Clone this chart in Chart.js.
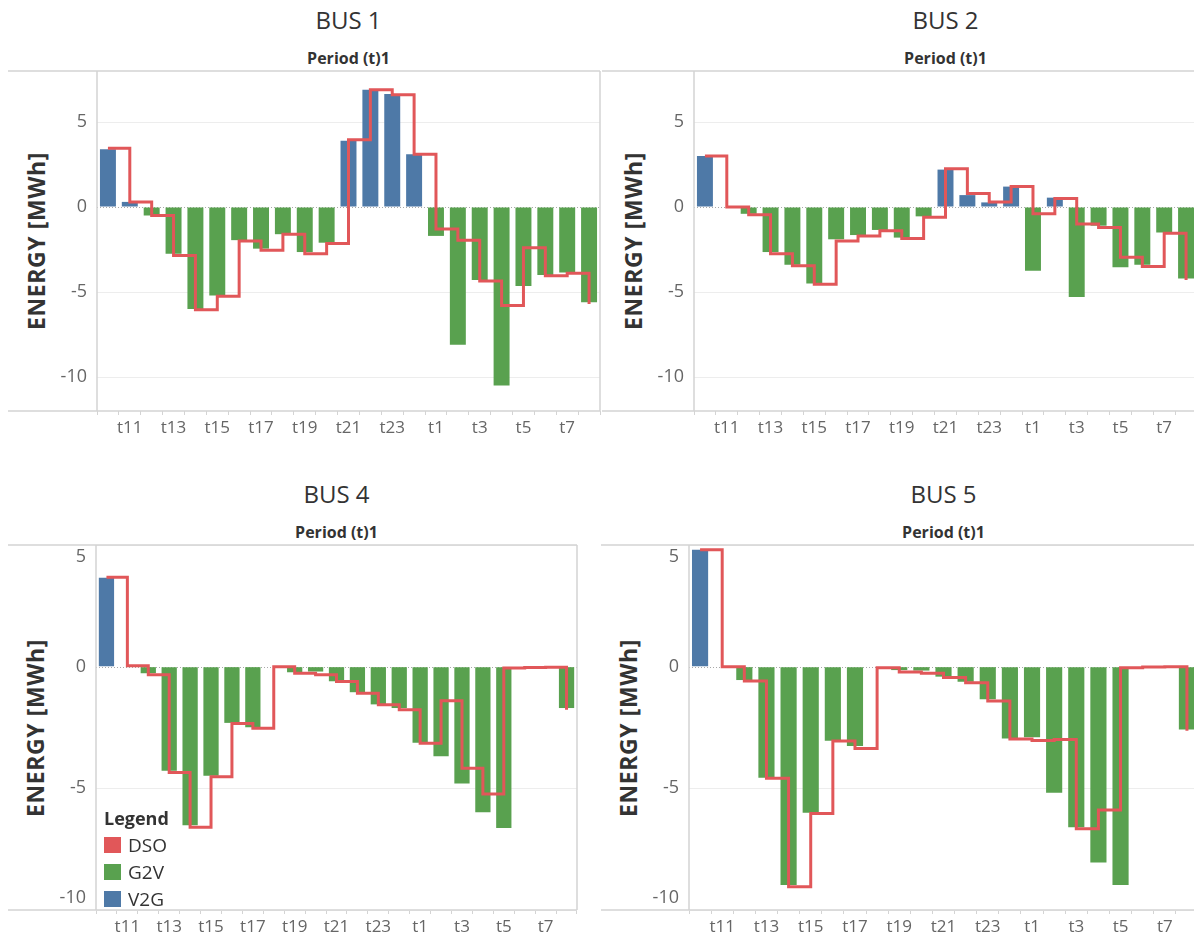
<!DOCTYPE html>
<html>
<head>
<meta charset="utf-8">
<script src="https://cdn.jsdelivr.net/npm/chart.js@4.4.1/dist/chart.umd.min.js"></script>
<style>
    html, body { margin: 0; padding: 0; background: #fff; }
    body {
        position: relative;
        width: 1194px;
        height: 939px;
        overflow: hidden;
        font-family: 'Open Sans', sans-serif;
        color: #333;
    }
    canvas { position: absolute; }
    .txt { position: absolute; white-space: nowrap; transform: translate(-50%, -50%); }
    .bus { font-size: 24px; }
    .period { font-size: 16px; font-weight: 700; }
    .ytitle { font-size: 23px; font-weight: 700; letter-spacing: 0.6px; transform: translate(-50%, -50%) rotate(-90deg); }
    .legend { position: absolute; left: 104px; top: 806px; }
    .legend h4 { margin: 0 0 2px 0; font-size: 18px; font-weight: 700; line-height: 24px; }
    .legend div { display: flex; align-items: center; height: 26.7px; font-size: 19px; }
    .legend span { display: inline-block; width: 17px; height: 16px; margin-right: 7px; }
</style>
</head>
<body>
<script>
const PERIODS = ['t10', 't11', 't12', 't13', 't14', 't15', 't16', 't17', 't18', 't19', 't20', 't21', 't22', 't23', 't24',
                 't1', 't2', 't3', 't4', 't5', 't6', 't7', 't8'];
const Y_TICKS = [5, 0, -5, -10];

const BUS1_V2G = [3.4, 0.3, 0, 0, 0, 0, 0, 0, 0, 0, 0, 3.9, 6.9, 6.65, 3.1, 0, 0, 0, 0, 0, 0, 0, 0];
const BUS1_G2V = [0, 0, -0.5, -2.75, -6.0, -5.2, -1.95, -2.45, -1.6, -2.65, -2.1, 0, 0, 0, 0, -1.7, -8.1, -4.3, -10.5, -4.65, -4.0, -3.85, -5.6];
const BUS1_DSO = [3.45, 0.3, -0.5, -2.85, -6.05, -5.25, -2.0, -2.55, -1.6, -2.75, -2.15, 3.95, 6.9, 6.6, 3.1, -1.3, -1.95, -4.35, -5.8, -2.4, -4.05, -3.9, -5.7];

const BUS2_V2G = [3.0, 0, 0, 0, 0, 0, 0, 0, 0, 0, 0, 2.2, 0.7, 0.27, 1.2, 0, 0.55, 0, 0, 0, 0, 0, 0];
const BUS2_G2V = [0, 0, -0.4, -2.65, -3.4, -4.5, -1.9, -1.65, -1.35, -1.8, -0.55, 0, 0, 0, 0, -3.75, 0, -5.3, -1.1, -3.55, -3.4, -1.5, -4.2];
const BUS2_DSO = [3.0, 0, -0.45, -2.75, -3.45, -4.55, -2.0, -1.7, -1.4, -1.85, -0.6, 2.25, 0.8, 0.3, 1.2, -0.4, 0.5, -1.0, -1.2, -2.95, -3.5, -1.55, -4.3];

const BUS4_V2G = [3.65, 0, 0, 0, 0, 0, 0, 0, 0, 0, 0, 0, 0, 0, 0, 0, 0, 0, 0, 0, 0, 0, 0];
const BUS4_G2V = [0, 0, -0.27, -4.28, -6.52, -4.48, -2.31, -2.49, 0, -0.23, -0.2, -0.6, -1.05, -1.55, -1.7, -3.13, -3.68, -4.8, -5.98, -6.63, 0, 0, -1.7];
const BUS4_DSO = [3.67, 0.04, -0.33, -4.35, -6.6, -4.52, -2.34, -2.53, 0, -0.27, -0.33, -0.61, -1.09, -1.56, -1.77, -3.15, -1.4, -4.17, -5.23, -0.05, -0.03, -0.02, -1.77];

const BUS5_V2G = [4.8, 0, 0, 0, 0, 0, 0, 0, 0, 0, 0, 0, 0, 0, 0, 0, 0, 0, 0, 0, 0, 0, 0];
const BUS5_G2V = [0, 0, -0.55, -4.56, -8.97, -6.0, -3.04, -3.26, 0, -0.14, -0.16, -0.41, -0.62, -1.34, -2.95, -2.9, -5.18, -6.6, -8.05, -8.97, 0, 0, -2.58];
const BUS5_DSO = [4.8, 0, -0.59, -4.59, -9.04, -6.03, -3.05, -3.36, -0.04, -0.22, -0.27, -0.45, -0.66, -1.41, -2.97, -3.03, -2.99, -6.66, -5.89, -0.04, -0.01, 0, -2.63];

const RED = '#e15759';
const GREEN = '#59a14f';
const BLUE = '#4e79a7';

Chart.defaults.font.family = "'Open Sans', sans-serif";

// frameLeft: where the panel's top/bottom rules start; left/right/top/bottom: plot band in page pixels
const PANELS = [
    { name: 'BUS 1', v2g: BUS1_V2G, g2v: BUS1_G2V, dso: BUS1_DSO, frameLeft: 8, left: 97, right: 600, top: 71, bottom: 411, yMin: -12, yMax: 8, rightBorder: true },
    { name: 'BUS 2', v2g: BUS2_V2G, g2v: BUS2_G2V, dso: BUS2_DSO, frameLeft: 602, left: 694, right: 1197, top: 71, bottom: 411, yMin: -12, yMax: 8, rightBorder: false },
    { name: 'BUS 4', v2g: BUS4_V2G, g2v: BUS4_G2V, dso: BUS4_DSO, frameLeft: 8, left: 96, right: 577, top: 545, bottom: 910, yMin: -10, yMax: 5, rightBorder: true, legend: true },
    { name: 'BUS 5', v2g: BUS5_V2G, g2v: BUS5_G2V, dso: BUS5_DSO, frameLeft: 601, left: 689, right: 1198, top: 545, bottom: 910, yMin: -10, yMax: 5, rightBorder: false }
];

// rules round the plot band, dotted zero line and the y labels (kept inside the band like the original tool does)
const panelFrame = {
    id: 'panelFrame',
    beforeDatasetsDraw(chart) {
        const { ctx, chartArea: a } = chart;
        const y0 = Math.round(chart.scales.y.getPixelForValue(0)) + 0.5;
        ctx.save();
        ctx.strokeStyle = '#a8a8a8';
        ctx.lineWidth = 1;
        ctx.setLineDash([1, 2]);
        ctx.beginPath();
        ctx.moveTo(a.left, y0);
        ctx.lineTo(a.right, y0);
        ctx.stroke();
        ctx.restore();
    },
    afterDraw(chart, args, opts) {
        const { ctx, chartArea: a } = chart;
        const y = chart.scales.y;
        ctx.save();
        ctx.strokeStyle = '#d4d4d4';
        ctx.lineWidth = 1.5;
        ctx.beginPath();
        ctx.moveTo(0, a.top); ctx.lineTo(a.right, a.top);
        ctx.moveTo(0, a.bottom); ctx.lineTo(a.right, a.bottom);
        ctx.moveTo(a.left, a.top); ctx.lineTo(a.left, a.bottom);
        if (opts.rightBorder) { ctx.moveTo(a.right, a.top); ctx.lineTo(a.right, a.bottom); }
        ctx.stroke();

        ctx.fillStyle = '#666';
        ctx.font = "18px 'Open Sans', sans-serif";
        ctx.textAlign = 'right';
        ctx.textBaseline = 'middle';
        Y_TICKS.forEach(v => {
            const py = Math.min(Math.max(y.getPixelForValue(v), a.top + 12), a.bottom - 12);
            ctx.fillText(String(v), a.left - 10, py);
        });
        ctx.restore();
    }
};

function addText(cls, text, cx, cy) {
    const el = document.createElement('div');
    el.className = 'txt ' + cls;
    el.textContent = text;
    el.style.left = cx + 'px';
    el.style.top = cy + 'px';
    document.body.appendChild(el);
}

function addLegend() {
    const box = document.createElement('div');
    box.className = 'legend';
    let html = '<h4>Legend</h4>';
    [['DSO', RED], ['G2V', GREEN], ['V2G', BLUE]].forEach(([label, color]) => {
        html += `<div><span style="background:${color}"></span>${label}</div>`;
    });
    box.innerHTML = html;
    document.body.appendChild(box);
}

function buildPanel(p) {
    const padTop = 6, padRight = 4, xAxisH = 34;
    const w = p.right - p.frameLeft + padRight;
    const h = p.bottom - p.top + padTop + xAxisH;
    const mid = (p.left + p.right) / 2;

    addText('bus', p.name, mid, p.top - 52);
    addText('period', 'Period (t)1', mid, p.top - 13);
    addText('ytitle', 'ENERGY [MWh]', p.left - 61, (p.top + p.bottom) / 2);

    const canvas = document.createElement('canvas');
    canvas.width = w;
    canvas.height = h;
    canvas.style.left = p.frameLeft + 'px';
    canvas.style.top = (p.top - padTop) + 'px';
    canvas.style.width = w + 'px';
    canvas.style.height = h + 'px';
    document.body.appendChild(canvas);

    const barOpts = { stack: 'ev', order: 1, barPercentage: 0.73, categoryPercentage: 1 };

    new Chart(canvas, {
        data: {
            labels: PERIODS,
            datasets: [
                {
                    type: 'line', label: 'DSO', data: p.dso, stack: 'dso', order: 0,
                    stepped: true, borderColor: RED, borderWidth: 3, pointRadius: 0, fill: false,
                    borderJoinStyle: 'miter', borderCapStyle: 'butt'
                },
                { type: 'bar', label: 'G2V', data: p.g2v, backgroundColor: GREEN, ...barOpts },
                { type: 'bar', label: 'V2G', data: p.v2g, backgroundColor: BLUE, ...barOpts }
            ]
        },
        options: {
            responsive: false,
            animation: false,
            devicePixelRatio: 1,
            layout: { padding: { top: padTop, right: padRight, left: 0, bottom: 0 } },
            plugins: {
                legend: { display: false },
                tooltip: { enabled: false },
                panelFrame: { rightBorder: p.rightBorder }
            },
            scales: {
                x: {
                    stacked: true,
                    offset: true,
                    border: { display: false },
                    grid: { display: true, drawOnChartArea: false, tickLength: 4, tickColor: '#d4d4d4' },
                    ticks: {
                        autoSkip: false,
                        maxRotation: 0,
                        padding: 3,
                        color: '#666',
                        font: { size: 17 },
                        callback: (v, i) => (i % 2 ? PERIODS[i] : '')
                    },
                    afterFit: s => { s.height = xAxisH; }
                },
                y: {
                    stacked: true,
                    min: p.yMin,
                    max: p.yMax,
                    border: { display: false },
                    afterBuildTicks: s => { s.ticks = Y_TICKS.map(v => ({ value: v })); },
                    grid: {
                        drawTicks: false,
                        lineWidth: 1,
                        color: c => (c.tick && c.tick.value === 0 ? 'rgba(0,0,0,0)' : '#ededed')
                    },
                    ticks: { display: false },
                    afterFit: s => { s.width = p.left - p.frameLeft; }
                }
            }
        },
        plugins: [panelFrame]
    });

    if (p.legend) addLegend();
}

PANELS.forEach(buildPanel);
</script>
</body>
</html>
